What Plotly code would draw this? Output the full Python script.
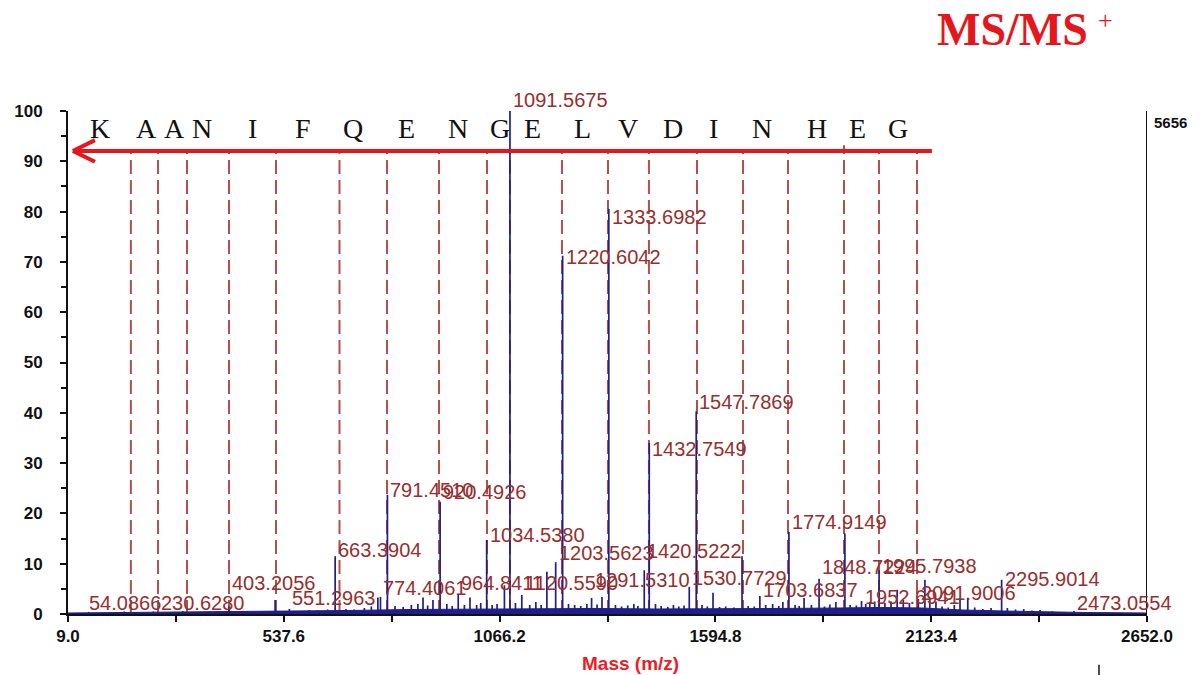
import plotly.graph_objects as go

# ---------------- data ----------------
# stick spectrum (m/z, relative intensity %)
peak_mz = [60, 110, 147, 175, 218, 260, 290, 330, 372, 403.2056, 440, 470, 516.3, 540, 551.2963, 575, 600, 620, 645,
           663.3904, 690, 710, 735, 752, 768, 774.4061, 791.451, 810, 830, 850, 866, 878.6, 890, 903, 920.4926, 937, 950,
           964.8411, 980, 993.7, 1010, 1020, 1034.538, 1048, 1060, 1078, 1091.5675, 1105, 1120.559, 1140, 1155, 1168,
           1182, 1203.5623, 1220.6042, 1235, 1250, 1265, 1280, 1291.531, 1305, 1317, 1333.6982, 1350, 1365, 1380, 1395,
           1405, 1420.5222, 1432.7549, 1448, 1462, 1478, 1492, 1505, 1518, 1530.7729, 1547.7869, 1562, 1575, 1589, 1605,
           1620, 1640, 1660, 1675, 1690, 1703.6837, 1718, 1735, 1750, 1760, 1774.9149, 1790, 1800, 1812, 1830, 1848.7224,
           1862, 1875, 1890, 1912, 1925, 1940, 1952.6941, 1963, 1973, 1985, 1995.7938, 2010, 2025, 2040, 2055, 2070,
           2091.9006, 2108, 2120, 2135, 2150, 2165, 2180, 2194, 2213, 2230, 2250, 2270, 2295.9014, 2310, 2330, 2350,
           2370, 2390, 2420, 2450, 2473.0554, 2500, 2550, 2600]
peak_int = [0.4, 0.3, 0.5, 0.4, 0.5, 0.4, 0.6, 0.4, 0.5, 1.5, 0.5, 0.4, 2.8, 0.6, 1.0, 0.6, 0.8, 0.7, 0.9,
            11.5, 1.0, 0.9, 1.2, 1.5, 3.3, 3.4, 23.7, 1.6, 1.4, 1.8, 2.0, 3.3, 1.7, 2.8, 22.3, 2.0, 1.6,
            4.0, 1.8, 3.3, 1.8, 2.2, 14.7, 1.8, 2.0, 5.7, 100, 2.2, 3.8, 1.8, 2.4, 1.8,
            8.4, 10.3, 71.2, 2.0, 1.8, 1.6, 2.0, 3.2, 1.9, 3.4, 80.5, 1.8, 1.5, 1.7, 2.0,
            1.6, 8.7, 34.0, 2.0, 1.6, 1.4, 1.8, 1.5, 1.7, 5.4, 40.3, 1.8, 1.5, 4.2, 1.4,
            1.5, 1.3, 11.5, 1.6, 1.5, 3.6, 1.8, 2.0, 1.6, 2.4, 16.3, 1.8, 1.6, 3.2, 1.8, 7.0,
            1.5, 1.9, 2.4, 16.0, 1.8, 1.7, 2.6, 2.0, 2.4, 2.5, 8.7, 2.2, 2.5, 4.8, 2.8, 2.2,
            3.0, 6.8, 3.2, 2.5, 1.5, 1.3, 1.8, 3.2, 3.2, 1.3, 1.0, 1.2, 6.8, 1.2, 0.9, 1.0,
            0.7, 0.8, 0.5, 0.4, 0.6, 0.3, 0.3, 0.2]

# noise floor (grass) level
base_mz = [9, 200, 400, 600, 700, 850, 1000, 1150, 1300, 1450, 1600, 1750, 1900, 2000, 2100, 2200, 2300, 2400, 2500, 2652]
base_int = [0.2, 0.3, 0.4, 0.5, 0.7, 0.9, 1.0, 1.1, 1.1, 1.0, 1.0, 1.1, 1.2, 1.3, 1.2, 0.8, 0.6, 0.4, 0.3, 0.2]

# peak annotations
label_text = ["54.0866", "230.6280", "403.2056", "551.2963", "663.3904", "774.4061", "791.4510", "920.4926",
              "964.8411", "1034.5380", "1091.5675", "1120.5590", "1203.5623", "1220.6042", "1291.5310", "1333.6982",
              "1420.5222", "1432.7549", "1530.7729", "1547.7869", "1703.6837", "1774.9149", "1848.7224", "1952.6941",
              "1995.7938", "2091.9006", "2295.9014", "2473.0554"]
label_mz = [54.0866, 230.628, 403.2056, 551.2963, 663.3904, 774.4061, 791.451, 920.4926,
            964.8411, 1034.538, 1091.5675, 1120.559, 1203.5623, 1220.6042, 1291.531, 1333.6982,
            1420.5222, 1432.7549, 1530.7729, 1547.7869, 1703.6837, 1774.9149, 1848.7224, 1952.6941,
            1995.7938, 2091.9006, 2295.9014, 2473.0554]
label_level = [2.2, 2.2, 6.2, 3.2, 12.7, 5.2, 24.7, 24.3,
               6.2, 15.7, 101.8, 6.2, 12.1, 71.0, 6.8, 78.9,
               12.5, 32.8, 7.2, 42.1, 4.8, 18.3, 9.3, 3.4,
               9.5, 4.2, 7.0, 2.2]

# peptide sequence, where each residue letter sits, and fragment ladder boundaries
residues = list("KAANIFQENGELVDINHEG")
residue_mz = [87, 202, 271, 337, 460, 585, 707, 839, 964, 1067, 1148, 1270, 1381, 1491, 1589, 1709, 1844, 1944, 2042]
cleavage_mz = [163, 229.5, 300.5, 403.4, 518.5, 674, 790.4, 917.8, 1035.3, 1091.6, 1219, 1331.7, 1432,
               1549.7, 1662.4, 1772.6, 1909.8, 1995.5, 2088.6]

x_range = [9.0, 2652.0]
y_range = [0, 100]
right_axis_max = "5656"

# ---------------- figure ----------------
NAVY = "#1f1f8a"
LABEL = "#962f2e"
DASH = "#b3504d"
RED = "#e5161c"

fig = go.Figure()

fig.add_trace(go.Scatter(x=base_mz, y=base_int, mode="lines", fill="tozeroy",
                         line=dict(color=NAVY, width=1), fillcolor=NAVY, hoverinfo="skip",
                         showlegend=False))

sx, sy = [], []
for m, h in zip(peak_mz, peak_int):
    sx += [m, m, None]
    sy += [0, h, None]
fig.add_trace(go.Scatter(x=sx, y=sy, mode="lines", line=dict(color=NAVY, width=1.7),
                         showlegend=False, hoverinfo="skip"))

shapes = []
top_level = 92.05
for i, c in enumerate(cleavage_mz):
    y1 = 93.2 if i == 16 else top_level
    shapes.append(dict(type="line", xref="x", yref="y", x0=c, x1=c, y0=0, y1=y1,
                       line=dict(color=DASH, width=2, dash="14px,6px"), layer="below"))

# red arrow (right to left)
shapes.append(dict(type="line", xref="x", yref="y", x0=2125, x1=21, y0=top_level, y1=top_level,
                   line=dict(color=RED, width=4), layer="above"))
shapes.append(dict(type="line", xref="x", yref="y", x0=21, x1=75, y0=top_level, y1=94.2,
                   line=dict(color=RED, width=4), layer="above"))
shapes.append(dict(type="line", xref="x", yref="y", x0=21, x1=75, y0=top_level, y1=89.9,
                   line=dict(color=RED, width=4), layer="above"))

# right-hand axis line
shapes.append(dict(type="line", xref="x", yref="y", x0=x_range[1], x1=x_range[1], y0=0, y1=100,
                   line=dict(color="#111111", width=2)))
# little mark below plot
shapes.append(dict(type="line", xref="paper", yref="paper", x0=0.9555, x1=0.9555, y0=-0.101, y1=-0.125,
                   line=dict(color="#111111", width=1.5)))

annotations = []
for t, m, lv in zip(label_text, label_mz, label_level):
    if lv > y_range[1]:
        pos = dict(y=y_range[1], yanchor="bottom", yshift=-2)
    else:
        pos = dict(y=lv, yanchor="middle")
    annotations.append(dict(x=m, xref="x", yref="y", text=t, showarrow=False,
                            xanchor="left", xshift=1,
                            font=dict(family="Liberation Sans, Arial", size=20, color=LABEL), **pos))

for r, m in zip(residues, residue_mz):
    annotations.append(dict(x=m, y=96.6, xref="x", yref="y", text=r, showarrow=False,
                            xanchor="center", yanchor="middle",
                            font=dict(family="Liberation Serif, Times New Roman", size=28, color="#111111")))

annotations.append(dict(x=0.875, y=1.163, xref="paper", yref="paper", text="<b>MS/MS</b>", showarrow=False,
                        xanchor="center", yanchor="middle",
                        font=dict(family="Liberation Serif, Times New Roman", size=46, color=RED)))
annotations.append(dict(x=0.962, y=1.18, xref="paper", yref="paper", text="+", showarrow=False,
                        xanchor="center", yanchor="middle",
                        font=dict(family="Liberation Serif, Times New Roman", size=26, color=RED)))
annotations.append(dict(x=1.005, y=0.978, xref="paper", yref="paper", text="<b>" + right_axis_max + "</b>",
                        showarrow=False, xanchor="left", yanchor="middle",
                        font=dict(family="Liberation Sans, Arial", size=15, color="#111111")))
annotations.append(dict(x=0.521, y=-0.098, xref="paper", yref="paper", text="<b>Mass (m/z)</b>",
                        showarrow=False, xanchor="center", yanchor="middle",
                        font=dict(family="Liberation Sans, Arial", size=19, color="#ee1c25")))

fig.update_layout(
    width=1201, height=675,
    margin=dict(l=68, r=54, t=111, b=61),
    paper_bgcolor="white", plot_bgcolor="white",
    shapes=shapes, annotations=annotations,
    showlegend=False,
)
fig.update_xaxes(range=x_range, showgrid=False, zeroline=False, showline=True, linecolor="#111111", linewidth=2,
                 tickmode="linear", tick0=9.0, dtick=528.6, tickformat=".1f",
                 ticks="outside", ticklen=6, tickwidth=1.5, tickcolor="#111111",
                 minor=dict(dtick=264.3, tick0=9.0, ticks="outside", ticklen=6, tickwidth=1.5, tickcolor="#111111"),
                 tickfont=dict(family="Liberation Sans, Arial", size=17, color="#111111", weight="bold"))
fig.update_yaxes(range=y_range, showgrid=False, zeroline=False, showline=True, linecolor="#111111", linewidth=2,
                 tickmode="linear", tick0=0, dtick=10,
                 ticks="outside", ticklen=6, tickwidth=1.5, tickcolor="#111111",
                 minor=dict(dtick=5, ticks="outside", ticklen=5, tickwidth=1.5, tickcolor="#111111"),
                 ticklabelstandoff=14,
                 tickfont=dict(family="Liberation Sans, Arial", size=17, color="#111111", weight="bold"))

# remove the default page margin so the figure fills the 1201x675 window exactly
fig.write_html("out.html", config={"displayModeBar": False},
               post_script="document.body.style.margin='0';")
